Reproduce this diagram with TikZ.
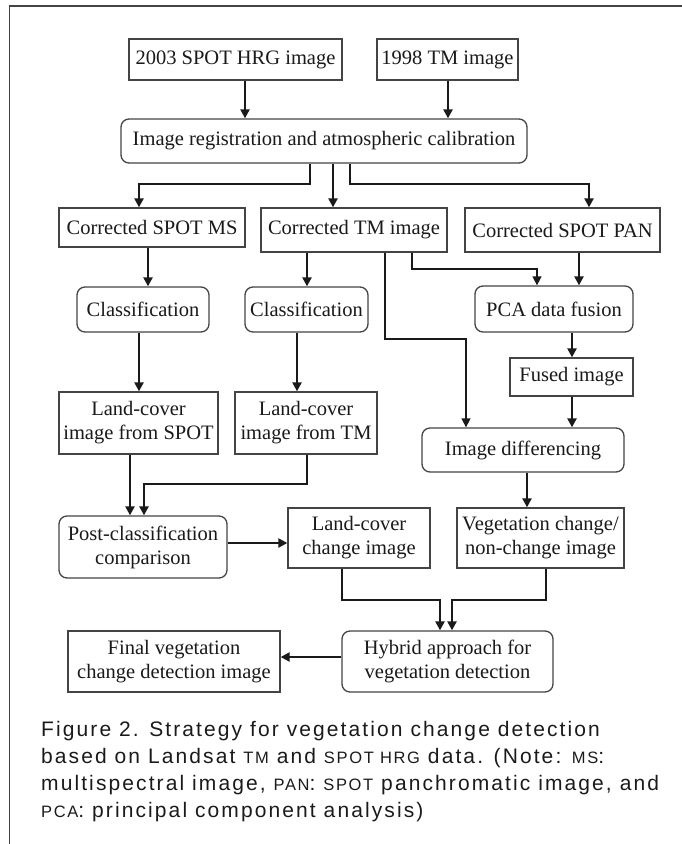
\documentclass[tikz,border=0pt]{standalone}
\usepackage{fontspec}
\setmainfont{Liberation Serif}
\newfontfamily\capfont[LetterSpace=10]{Liberation Sans}
\usetikzlibrary{arrows.meta}
\definecolor{boxgray}{HTML}{444444}
\definecolor{txt}{HTML}{1A1A1A}
\newcommand{\smcp}[1]{{\fontsize{16.5}{27}\selectfont #1}}
\begin{document}
\begin{tikzpicture}[x=1pt,y=-1pt,
  box/.style={draw=boxgray, line width=1.3pt, fill=white, inner sep=0pt, align=center,
    font=\fontsize{20.5}{24}\selectfont, text=txt},
  rbox/.style={box, rounded corners=8pt},
  arr/.style={line width=2.7pt, draw=txt, -{Triangle[length=9pt,width=9pt]}},
  tarr/.style={line width=1.4pt, draw=txt, -{Triangle[length=9pt,width=9pt]}},
  capline/.style={anchor=base west, inner sep=0pt, text=txt, font=\capfont\fontsize{21}{27}\selectfont}
]
\useasboundingbox (0,0) rectangle (682,844);
\draw[boxgray, line width=1.5pt] (9.5,844) -- (9.5,6) -- (682,6);

% nodes
\node[box, minimum width=213pt, minimum height=41pt] (hrg) at (235.5,59.5) {2003 SPOT HRG image};
\node[box, minimum width=141pt, minimum height=41pt] (tm) at (447.5,59.5) {1998 TM image};
\node[rbox, minimum width=406pt, minimum height=44pt] (reg) at (324,141) {Image registration and atmospheric calibration};
\node[box, minimum width=186pt, minimum height=39pt] (ms) at (152,227.5) {Corrected SPOT MS};
\node[box, minimum width=186pt, minimum height=44pt] (ctm) at (354,230) {Corrected TM image};
\node[box, minimum width=195pt, minimum height=44pt] (pan) at (562.5,230) {Corrected SPOT PAN};
\node[rbox, minimum width=132pt, minimum height=45pt] (cl1) at (143,309.5) {Classification};
\node[rbox, minimum width=123pt, minimum height=45pt] (cl2) at (306.5,309.5) {Classification};
\node[rbox, minimum width=158pt, minimum height=46pt] (pca) at (554,309) {PCA data fusion};
\node[box, minimum width=123pt, minimum height=38pt] (fused) at (571.5,377) {Fused image};
\node[rbox, minimum width=202pt, minimum height=44pt] (diff) at (523,450) {Image differencing};
\node[box, minimum width=159pt, minimum height=62pt] (lcs) at (138.5,423) {Land-cover\\image from SPOT};
\node[box, minimum width=142pt, minimum height=62pt] (lct) at (306,423) {Land-cover\\image from TM};
\node[rbox, minimum width=168pt, minimum height=62pt] (post) at (143,547) {Post-classification\\comparison};
\node[box, minimum width=142pt, minimum height=60pt] (lcc) at (359,538) {Land-cover\\change image};
\node[box, minimum width=167pt, minimum height=60pt] (veg) at (540.5,538) {Vegetation change/\\non-change image};
\node[rbox, minimum width=211pt, minimum height=61pt] (hyb) at (447.5,661.5) {Hybrid approach for\\vegetation detection};
\node[box, minimum width=212pt, minimum height=61pt] (fin) at (174,661.5) {Final vegetation\\change detection image};

% connectors
\draw[arr] (245,0 |- hrg.south) -- (245,0 |- reg.north);
\draw[arr] (448,0 |- tm.south) -- (448,0 |- reg.north);
\draw[arr] (310,0 |- reg.south) -- (310,184) -| (139,0 |- ms.north);
\draw[arr] (333,0 |- reg.south) -- (333,0 |- ctm.north);
\draw[arr] (350,0 |- reg.south) -- (350,184) -| (589,0 |- pan.north);
\draw[arr] (148,0 |- ms.south) -- (148,0 |- cl1.north);
\draw[arr] (307,0 |- ctm.south) -- (307,0 |- cl2.north);
\draw[tarr] (412,0 |- ctm.south) -- (412,269) -| (537,0 |- pca.north);
\draw[arr] (579,0 |- pan.south) -- (579,0 |- pca.north);
\draw[tarr] (385,0 |- ctm.south) -- (385,339) -| (466,0 |- diff.north);
\draw[arr] (139,0 |- cl1.south) -- (139,0 |- lcs.north);
\draw[arr] (297,0 |- cl2.south) -- (297,0 |- lct.north);
\draw[arr] (572,0 |- pca.south) -- (572,0 |- fused.north);
\draw[arr] (572,0 |- fused.south) -- (572,0 |- diff.north);
\draw[arr] (130,0 |- lcs.south) -- (130,0 |- post.north);
\draw[arr] (307,0 |- lct.south) -- (307,484) -| (144,0 |- post.north);
\draw[arr] (post.east |- 0,543) -- (lcc.west |- 0,543);
\draw[arr] (527,0 |- diff.south) -- (527,0 |- veg.north);
\draw[arr] (342,0 |- lcc.south) -- (342,600) -| (440,0 |- hyb.north);
\draw[arr] (546,0 |- veg.south) -- (546,600) -| (452,0 |- hyb.north);
\draw[arr] (hyb.west |- 0,657) -- (fin.east |- 0,657);

% caption
\node[capline] (cap1) at (41,736) {Figure 2. Strategy for vegetation change detection};
\node[capline] (cap2) at (41,763) {based on Landsat \smcp{TM} and \smcp{SPOT HRG} data. (Note: \smcp{MS}:};
\node[capline] (cap3) at (41,790) {multispectral image, \smcp{PAN}: \smcp{SPOT} panchromatic image, and};
\node[capline] (cap4) at (41,817) {\smcp{PCA}: principal component analysis)};
\end{tikzpicture}
\end{document}
